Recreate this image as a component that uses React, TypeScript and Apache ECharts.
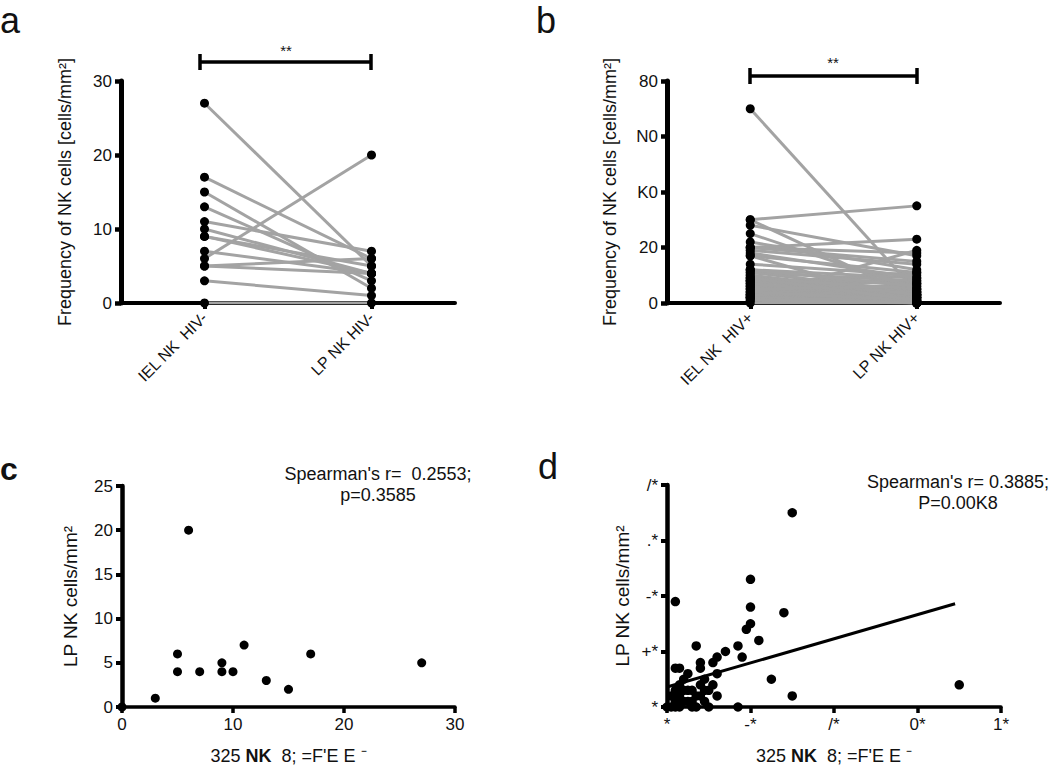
import React, { useEffect, useRef } from "react";
import * as echarts from "echarts";

// Panel a / c: HIV- pairs (IEL, LP)
const ielNeg = [0, 3, 5, 5, 6, 7, 9, 9, 10, 11, 13, 15, 17, 27];
const lpNeg = [0, 1, 6, 4, 20, 4, 5, 4, 4, 7, 3, 2, 6, 5];

// Panel b / d: HIV+ pairs (IEL, LP)
const ielPos = [30, 20, 20, 20, 19, 28, 17, 7, 2, 12, 11, 8, 8, 2, 3, 25, 30, 70, 17, 10, 0, 2, 3, 6, 7, 4, 2, 5, 6, 8, 11, 12, 8, 6, 2, 3, 1, 4, 9, 5, 3, 10, 7, 9, 1, 4, 5, 12, 9, 14, 22, 18];
const lpPos = [35, 23, 18, 15, 14, 17, 11, 11, 19, 9, 8, 8, 7, 7, 7, 5, 2, 4, 0, 0, 0, 0, 0, 0, 0, 5, 3, 3, 3, 4, 4, 2, 2, 1, 1, 2, 0, 3, 3, 1, 4, 3, 2, 5, 2, 1, 6, 6, 1, 10, 12, 9];

// regression line in d (from the figure)
const regX = [0, 69];
const regY = [3.6, 18.6];

const catNeg = ["IEL NK  HIV-", "LP NK HIV-"];
const catPos = ["IEL NK  HIV+", "LP NK HIV+"];
const ticksB: Record<number, string> = { 0: "0", 20: "20", 40: "K0", 60: "N0", 80: "80" };
const ticksDx: Record<number, string> = { 0: "*", 20: "-*", 40: "/*", 60: "0*", 80: "1*" };
const ticksDy: Record<number, string> = { 0: "*", 10: "+*", 20: "-*", 30: ".*", 40: "/*" };

const FONT = "Liberation Sans, Arial, sans-serif";
const GRAY = "#a3a3a3";

export default function App() {
  const ref = useRef<HTMLDivElement>(null);
  useEffect(() => {
    document.body.style.margin = "0";
    const chart = echarts.init(ref.current!, null, { renderer: "svg" });

    const line = (w: number) => ({ show: true, onZero: false, lineStyle: { color: "#000", width: w } });
    const tick = (w: number, align = false) => ({ show: true, inside: false, length: 6, alignWithLabel: align, lineStyle: { color: "#000", width: w } });
    const label = (extra: any = {}) => ({ color: "#111", fontSize: 17, fontFamily: FONT, margin: 9, ...extra });

    const series: any[] = [];
    ielNeg.forEach((v, i) => {
      series.push({
        type: "line", xAxisIndex: 0, yAxisIndex: 0, data: [v, lpNeg[i]], symbol: "none",
        lineStyle: { color: GRAY, width: 3 }, z: 3, silent: true,
      });
    });
    series.push({
      type: "scatter", xAxisIndex: 0, yAxisIndex: 0, symbolSize: 9, itemStyle: { color: "#000", opacity: 1 }, z: 5,
      data: [...ielNeg.map((v) => [0, v]), ...lpNeg.map((v) => [1, v])],
    });
    ielPos.forEach((v, i) => {
      series.push({
        type: "line", xAxisIndex: 1, yAxisIndex: 1, data: [v, lpPos[i]], symbol: "none",
        lineStyle: { color: GRAY, width: 3 }, z: 3, silent: true,
      });
    });
    series.push({
      type: "scatter", xAxisIndex: 1, yAxisIndex: 1, symbolSize: 9, itemStyle: { color: "#000", opacity: 1 }, z: 5,
      data: [...ielPos.map((v) => [0, v]), ...lpPos.map((v) => [1, v])],
    });
    series.push({
      type: "scatter", xAxisIndex: 2, yAxisIndex: 2, symbolSize: 9, itemStyle: { color: "#000", opacity: 1 }, z: 5,
      data: ielNeg.map((v, i) => [v, lpNeg[i]]),
    });
    series.push({
      type: "scatter", xAxisIndex: 3, yAxisIndex: 3, symbolSize: 9.5, itemStyle: { color: "#000", opacity: 1 }, z: 5,
      data: ielPos.map((v, i) => [v, lpPos[i]]),
    });
    series.push({
      type: "line", xAxisIndex: 3, yAxisIndex: 3, symbol: "none", z: 6,
      lineStyle: { color: "#000", width: 3 },
      data: regX.map((v, i) => [v, regY[i]]),
    });

    const yTitle = () => ({ fontSize: 18, fontFamily: FONT, color: "#111" });
    const lpTitle = () => ({ fontSize: 19, fontFamily: FONT, color: "#111" });
    const xName = "{n|325 }{b|NK}{n|  8; =F'E E ⁻}";
    const xNameStyle = () => ({
      fontSize: 18, fontFamily: FONT, color: "#111",
      rich: { n: { fontSize: 18, fontFamily: FONT, color: "#111" }, b: { fontSize: 18, fontFamily: FONT, fontWeight: "bold", color: "#111" } },
    });

    const txt = (x: number, y: number, text: string, size: number, align = "center", weight = "normal") => ({
      type: "text", x, y,
      style: { text, fontSize: size, fontFamily: FONT, fill: "#111", align, verticalAlign: "middle", fontWeight: weight },
    });
    const ln = (x1: number, y1: number, x2: number, y2: number) => ({
      type: "line", shape: { x1, y1, x2, y2 }, style: { stroke: "#000", lineWidth: 3.5 },
    });

    chart.setOption({
      animation: false,
      backgroundColor: "#fff",
      grid: [
        { left: 121, top: 81, width: 334, height: 222 },
        { left: 667, top: 81, width: 333, height: 222 },
        { left: 122, top: 486, width: 333, height: 222 },
        { left: 667, top: 485, width: 334, height: 222 },
      ],
      xAxis: [
        {
          gridIndex: 0, type: "category", data: catNeg, boundaryGap: true, splitLine: { show: false },
          axisLine: line(4), axisTick: tick(4, true), axisLabel: label({ rotate: 45, fontSize: 16, margin: 12 }),
        },
        {
          gridIndex: 1, type: "category", data: catPos, boundaryGap: true, splitLine: { show: false },
          axisLine: line(4), axisTick: tick(4, true), axisLabel: label({ rotate: 45, fontSize: 16, margin: 12 }),
        },
        {
          gridIndex: 2, type: "value", min: 0, max: 30, interval: 10, splitLine: { show: false },
          axisLine: line(3.5), axisTick: tick(3.5), axisLabel: label(),
          name: xName, nameLocation: "middle", nameGap: 40, nameTextStyle: xNameStyle(),
        },
        {
          gridIndex: 3, type: "value", min: 0, max: 80, interval: 20, splitLine: { show: false },
          axisLine: line(3.5), axisTick: tick(3.5),
          axisLabel: label({ formatter: (v: number) => ticksDx[v] ?? "" }),
          name: xName, nameLocation: "middle", nameGap: 40, nameTextStyle: xNameStyle(),
        },
      ],
      yAxis: [
        {
          gridIndex: 0, type: "value", min: 0, max: 30, interval: 10, splitLine: { show: false },
          axisLine: line(5), axisTick: tick(4.5), axisLabel: label(),
          name: "Frequency of NK cells [cells/mm²]", nameLocation: "middle", nameGap: 47, nameTextStyle: yTitle(),
        },
        {
          gridIndex: 1, type: "value", min: 0, max: 80, interval: 20, splitLine: { show: false },
          axisLine: line(5), axisTick: tick(4.5),
          axisLabel: label({ formatter: (v: number) => ticksB[v] ?? "" }),
          name: "Frequency of NK cells [cells/mm²]", nameLocation: "middle", nameGap: 48, nameTextStyle: yTitle(),
        },
        {
          gridIndex: 2, type: "value", min: 0, max: 25, interval: 5, splitLine: { show: false },
          axisLine: line(4.5), axisTick: tick(4), axisLabel: label(),
          name: "LP NK cells/mm²", nameLocation: "middle", nameGap: 42, nameTextStyle: lpTitle(),
        },
        {
          gridIndex: 3, type: "value", min: 0, max: 40, interval: 10, splitLine: { show: false },
          axisLine: line(4.5), axisTick: tick(4),
          axisLabel: label({ formatter: (v: number) => ticksDy[v] ?? "" }),
          name: "LP NK cells/mm²", nameLocation: "middle", nameGap: 35, nameTextStyle: lpTitle(),
        },
      ],
      series,
      graphic: [
        txt(0, 20, "a", 36, "left"),
        txt(536, 20, "b", 36, "left"),
        txt(0, 469, "c", 32, "left", "bold"),
        txt(538, 466, "d", 36, "left"),
        ln(200, 62, 371, 62), ln(200, 54, 200, 70), ln(371, 54, 371, 70),
        txt(286, 50, "**", 15),
        ln(750, 76, 917, 76), ln(750, 68, 750, 84), ln(917, 68, 917, 84),
        txt(833, 62, "**", 15),
        txt(378, 474, "Spearman's r=  0.2553;", 18),
        txt(378, 495, "p=0.3585", 18),
        txt(958, 482, "Spearman's r= 0.3885;", 18),
        txt(958, 503, "P=0.00K8", 18),
      ],
    });
    return () => chart.dispose();
  }, []);
  return <div ref={ref} style={{ position: "absolute", left: 0, top: 0, width: 1050, height: 766 }} />;
}
